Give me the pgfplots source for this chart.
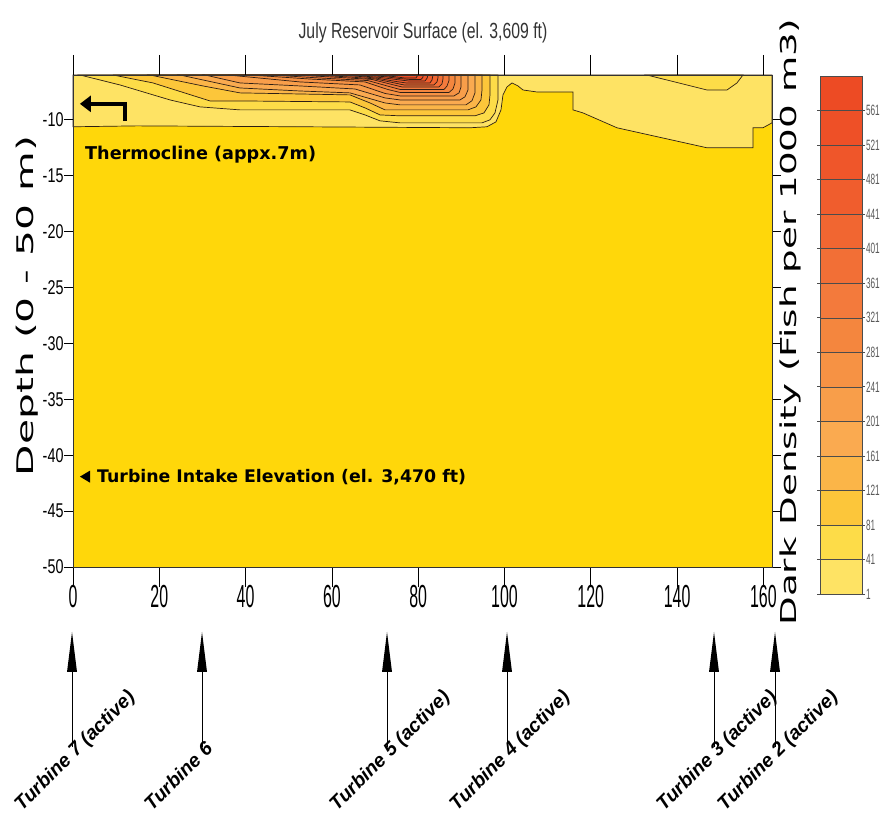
\documentclass[border=0pt]{standalone}
\usepackage{fontspec}
\usepackage{pgfplots}
\pgfplotsset{compat=1.18}
\usetikzlibrary{arrows.meta}
\setmainfont{Liberation Sans}
\newfontfamily\fnA[FakeStretch=0.72]{Liberation Sans}
\newfontfamily\fnB[FakeStretch=0.5]{Liberation Sans}
\newfontfamily\fnC[FakeStretch=0.55]{Liberation Sans}
\newfontfamily\fnW[FakeStretch=1.7]{DejaVu Sans}
\newfontfamily\fnL[FakeStretch=1.78]{DejaVu Sans}
\newfontfamily\fnD{DejaVu Sans}
\definecolor{b0}{RGB}{255,215,10}
\definecolor{b1}{RGB}{254,227,100}
\definecolor{b2}{RGB}{253,220,72}
\definecolor{b3}{RGB}{252,198,58}
\definecolor{b4}{RGB}{251,181,72}
\definecolor{b5}{RGB}{250,170,80}
\definecolor{b6}{RGB}{248,158,74}
\definecolor{b7}{RGB}{246,146,68}
\definecolor{b8}{RGB}{244,134,62}
\definecolor{b9}{RGB}{243,122,60}
\definecolor{b10}{RGB}{242,111,54}
\definecolor{b11}{RGB}{241,102,49}
\definecolor{b12}{RGB}{240,93,45}
\definecolor{b13}{RGB}{239,86,42}
\definecolor{b14}{RGB}{238,80,39}
\definecolor{b15}{RGB}{237,75,36}
\definecolor{lc}{RGB}{45,30,20}
\begin{document}
\begin{tikzpicture}
\useasboundingbox (0,0) rectangle (881bp,820bp);
\begin{axis}[
  at={(73bp,253bp)}, anchor=south west,
  width=699bp, height=492bp, scale only axis,
  xmin=0, xmax=162, ymin=-50, ymax=-6,
  xtick={0,20,...,160}, ytick={-50,-45,...,-10},
  tick align=outside, major tick length=9bp,
  xtick style={/pgfplots/major tick length=20bp},
  tick style={black, line width=0.6pt},
  axis line style={black!80, line width=0.8pt},
  axis background/.style={fill=b0},
  /pgf/number format/assume math mode=true,
  xticklabel style={font=\fnB\fontsize{32}{32}\selectfont, yshift=-6bp},
  yticklabel style={font=\fnA\fontsize{20}{20}\selectfont, xshift=3bp},
  clip=false, axis on top,
]
% level 1
\addplot[fill=b1, draw=lc, line width=0.7pt] coordinates {
 (0,-6) (0,-10.63) (14.83,-10.55) (52.61,-10.63) (92.0,-10.72) (95.94,-10.63) (98.03,-10.19) (99.19,-9.12) (99.65,-7.78) (100.58,-7.07) (101.74,-6.71) (103.13,-6.98) (104.29,-7.34) (107.53,-7.52) (115.87,-7.52) (115.87,-9.12) (118.19,-9.39) (126.07,-10.72) (146.93,-12.51) (157.59,-12.51) (157.59,-10.72) (159.91,-10.72) (162,-10.28) (162,-6)} -- cycle;
% level 41 (right patch)
\addplot[fill=b2, draw=lc, line width=0.7pt] coordinates {
 (133.0,-6) (146.93,-7.34) (151.56,-7.34) (153.88,-6.71) (155.27,-6)} -- cycle;
% level 41
\addplot[fill=b2, draw=lc, line width=0.7pt] coordinates {
 (1.62,-6) (10.89,-6.89) (22.48,-8.23) (29.43,-8.85) (38.70,-9.12) (64.19,-9.12) (67.67,-9.57) (71.15,-10.10) (75.78,-10.28) (94.79,-10.28) (96.64,-10.01) (97.80,-9.39) (98.49,-8.23) (98.49,-6)} -- cycle;
% level 81
\addplot[fill=b3, draw=lc, line width=0.7pt] coordinates {
 (9.27,-6) (18.54,-6.71) (31.75,-8.32) (38.70,-8.32) (64.19,-8.41) (67.67,-8.94) (71.15,-9.57) (75.78,-9.65) (93.16,-9.65) (95.25,-9.39) (96.41,-8.67) (96.64,-7.78) (96.64,-6)} -- cycle;
% level 121
\addplot[fill=b4, draw=lc, line width=0.7pt] coordinates {
 (17.84,-6) (30.13,-6.98) (38.70,-7.60) (64.19,-7.78) (68.83,-8.50) (72.31,-9.12) (91.54,-9.12) (93.40,-8.85) (94.55,-8.23) (94.79,-7.34) (94.79,-6)} -- cycle;
% level 161
\addplot[fill=b5, draw=lc, line width=0.7pt] coordinates {
 (24.80,-6) (38.70,-7.16) (52.61,-7.43) (64.19,-7.60) (72.31,-8.50) (75.78,-8.67) (91.08,-8.67) (92.47,-8.30) (93.16,-7.60) (93.16,-6)} -- cycle;
% level 201
\addplot[fill=b6, draw=lc, line width=0.7pt] coordinates {
 (30.59,-6) (38.70,-6.71) (52.61,-6.98) (65.35,-7.25) (72.31,-8.05) (75.78,-8.23) (89.69,-8.23) (90.85,-7.95) (91.54,-7.34) (91.54,-6)} -- cycle;
% level 241
\addplot[fill=b7, draw=lc, line width=0.7pt] coordinates {
 (35.92,-6) (52.61,-6.62) (66.51,-6.89) (72.31,-7.65) (75.78,-7.87) (88.30,-7.87) (89.46,-7.60) (89.92,-7.07) (89.92,-6)} -- cycle;
% level 281
\addplot[fill=b8, draw=lc, line width=0.7pt] coordinates {
 (41.02,-6) (54.92,-6.36) (67.67,-6.62) (73.00,-7.30) (75.78,-7.56) (87.14,-7.56) (88.07,-7.25) (88.53,-6.71) (88.53,-6)} -- cycle;
% level 321
\addplot[fill=b9, draw=lc, line width=0.7pt] coordinates {
 (46.12,-6) (57.24,-6.27) (68.37,-6.50) (73.46,-7.05) (75.78,-7.29) (85.98,-7.29) (86.67,-7.00) (87.14,-6.50) (87.14,-6)} -- cycle;
% level 361
\addplot[fill=b10, draw=lc, line width=0.7pt] coordinates {
 (51.45,-6) (61.88,-6.22) (69.29,-6.40) (73.93,-6.85) (76.25,-7.07) (84.82,-7.07) (85.52,-6.80) (85.75,-6.35) (85.75,-6)} -- cycle;
% level 401
\addplot[fill=b11, draw=lc, line width=0.7pt] coordinates {
 (56.08,-6) (64.19,-6.18) (69.99,-6.35) (74.39,-6.70) (76.71,-6.89) (83.66,-6.89) (84.36,-6.62) (84.59,-6.25) (84.59,-6)} -- cycle;
% level 441
\addplot[fill=b12, draw=lc, line width=0.7pt] coordinates {
 (60.72,-6) (66.51,-6.13) (70.68,-6.30) (74.86,-6.58) (77.17,-6.71) (82.74,-6.71) (83.20,-6.45) (83.43,-6)} -- cycle;
% level 481
\addplot[fill=b13, draw=lc, line width=0.7pt] coordinates {
 (64.19,-6) (71.15,-6.22) (75.32,-6.42) (77.64,-6.53) (81.58,-6.53) (82.04,-6.30) (82.27,-6)} -- cycle;
% level 521
\addplot[fill=b14, draw=lc, line width=0.7pt] coordinates {
 (66.98,-6) (72.31,-6.15) (75.78,-6.32) (78.10,-6.40) (80.65,-6.40) (81.11,-6.20) (81.11,-6)} -- cycle;
% level 561
\addplot[fill=b15, draw=lc, line width=0.7pt] coordinates {
 (69.29,-6) (73.93,-6.12) (76.94,-6.27) (79.49,-6.27) (79.95,-6)} -- cycle;
% annotations
\draw[line width=4bp, line join=miter, -{Triangle[length=11bp,width=16bp]}]
  (axis cs:12.05,-10.10) -- (axis cs:12.05,-8.58) -- (axis cs:1.6,-8.58);
\node[anchor=west, inner sep=0, font=\fnD\bfseries\fontsize{17.7}{18}\selectfont]
  at (axis cs:2.78,-13.13) {Thermocline (appx.7m)};
\fill (axis cs:1.62,-41.92) -- (axis cs:3.94,-41.38) -- (axis cs:3.94,-42.46) -- cycle;
\node[anchor=west, inner sep=0, font=\fnD\bfseries\fontsize{17.4}{18}\selectfont]
  at (axis cs:5.56,-41.92) {Turbine Intake Elevation (el. 3,470 ft)};
\end{axis}
% colour bar
\begin{axis}[
  at={(820bp,226bp)}, anchor=south west,
  width=42bp, height=518bp, scale only axis,
  xmin=0, xmax=1, ymin=1, ymax=601,
  xtick=\empty, ytick={1,41,...,561},
  yticklabel pos=right, tick align=outside, major tick length=3bp,
  tick style={black!70, line width=0.6pt},
  axis line style={black!70, line width=0.7pt},
  /pgf/number format/assume math mode=true,
  yticklabel style={font=\fnC\fontsize{15}{15}\selectfont, text=black!65, xshift=-2.5bp},
  axis on top,
]
\addplot[fill=b1, draw=black!70] coordinates {(0,1) (1,1) (1,41) (0,41)} -- cycle;
\addplot[fill=b2, draw=black!70] coordinates {(0,41) (1,41) (1,81) (0,81)} -- cycle;
\addplot[fill=b3, draw=black!70] coordinates {(0,81) (1,81) (1,121) (0,121)} -- cycle;
\addplot[fill=b4, draw=black!70] coordinates {(0,121) (1,121) (1,161) (0,161)} -- cycle;
\addplot[fill=b5, draw=black!70] coordinates {(0,161) (1,161) (1,201) (0,201)} -- cycle;
\addplot[fill=b6, draw=black!70] coordinates {(0,201) (1,201) (1,241) (0,241)} -- cycle;
\addplot[fill=b7, draw=black!70] coordinates {(0,241) (1,241) (1,281) (0,281)} -- cycle;
\addplot[fill=b8, draw=black!70] coordinates {(0,281) (1,281) (1,321) (0,321)} -- cycle;
\addplot[fill=b9, draw=black!70] coordinates {(0,321) (1,321) (1,361) (0,361)} -- cycle;
\addplot[fill=b10, draw=black!70] coordinates {(0,361) (1,361) (1,401) (0,401)} -- cycle;
\addplot[fill=b11, draw=black!70] coordinates {(0,401) (1,401) (1,441) (0,441)} -- cycle;
\addplot[fill=b12, draw=black!70] coordinates {(0,441) (1,441) (1,481) (0,481)} -- cycle;
\addplot[fill=b13, draw=black!70] coordinates {(0,481) (1,481) (1,521) (0,521)} -- cycle;
\addplot[fill=b14, draw=black!70] coordinates {(0,521) (1,521) (1,561) (0,561)} -- cycle;
\addplot[fill=b15, draw=black!70] coordinates {(0,561) (1,561) (1,601) (0,601)} -- cycle;
\end{axis}
% titles and axis labels
\node[font=\fnA\fontsize{22}{22}\selectfont, text=black!80] at (423bp,787bp) {July Reservoir Surface (el. 3,609 ft)};
\node[rotate=90, font=\fnL\fontsize{23}{23}\selectfont] at (27bp,514bp) {Depth (0 - 50 m)};
\node[rotate=90, font=\fnW\fontsize{22}{22}\selectfont] at (790bp,498bp) {Dark Density (Fish per 1000 m3)};
% turbines
\foreach \tx in {72,202,387,507,714,775} {
  \fill (\tx bp,188bp) -- (\tx bp-5bp,148bp) -- (\tx bp+5bp,148bp) -- cycle;
  \draw[line width=1bp] (\tx bp,150bp) -- (\tx bp,73bp);
}
\tikzset{turb/.style={rotate=45, anchor=base west, inner sep=0, font=\fontsize{19.5}{20}\selectfont\bfseries\itshape}}
\node[turb] at (22bp,8bp) {Turbine 7 (active)};
\node[turb] at (152bp,8bp) {Turbine 6};
\node[turb] at (337bp,8bp) {Turbine 5 (active)};
\node[turb] at (457bp,8bp) {Turbine 4 (active)};
\node[turb] at (664bp,8bp) {Turbine 3 (active)};
\node[turb] at (725bp,8bp) {Turbine 2 (active)};
\end{tikzpicture}
\end{document}
